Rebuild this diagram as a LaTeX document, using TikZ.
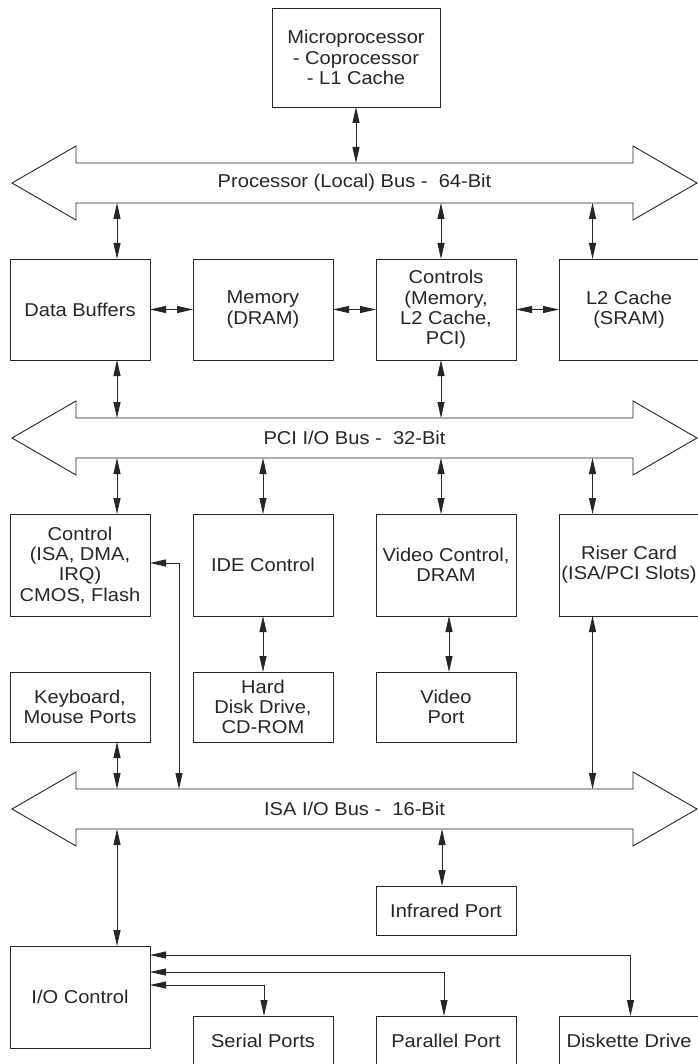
\documentclass[tikz,border=0pt]{standalone}
\usepackage{fontspec}
\setmainfont{Liberation Sans}[FakeStretch=1.08]
\usetikzlibrary{positioning,arrows.meta}

\begin{document}
\begin{tikzpicture}[x=1pt, y=-1pt, node distance=43pt, line width=0.9pt, color=black!85,
        font=\fontsize{18.6pt}{20.3pt}\selectfont,
        box/.style = {draw, align=center, minimum width=140pt, inner sep=0pt, outer sep=0pt},
        bus/.style = {minimum width=557pt, minimum height=40pt, inner sep=0pt, outer sep=0pt},
        link/.style = {{Triangle[length=16pt,width=7pt]}-{Triangle[length=16pt,width=7pt]}}]
    \useasboundingbox (0,0) rectangle (697,1064);
    % processor and local bus
    \node[box, minimum width=168pt, minimum height=99pt] (micro) at (356,57.5) {Microprocessor\\- Coprocessor\\- L1 Cache};
    \node[bus] (procbus) at (354.5,183) {Processor (Local) Bus -\ \ 64-Bit};
    \node[box, minimum height=101pt] (buffers) at (80,309.5) {Data Buffers};
    \node[box, minimum height=101pt, right=of buffers] (memory) {Memory\\(DRAM)};
    \node[box, minimum height=101pt, right=of memory] (controls) {Controls\\(Memory,\\L2 Cache,\\PCI)};
    \node[box, minimum height=101pt, right=of controls] (l2) {L2 Cache\\(SRAM)};
    % pci bus
    \node[bus] (pcibus) at (354.5,438) {PCI I/O Bus -\ \ 32-Bit};
    \node[box, minimum height=102pt] (ctrl) at (80,565) {Control\\(ISA, DMA,\\IRQ)\\CMOS, Flash};
    \node[box, minimum height=102pt, right=of ctrl] (ide) {IDE Control};
    \node[box, minimum height=102pt, right=of ide] (video) {Video Control,\\DRAM};
    \node[box, minimum height=102pt, right=of video] (riser) {Riser Card\\(ISA/PCI Slots)};
    \node[box, minimum height=70pt, below=56pt of ctrl] (kbd) {Keyboard,\\Mouse Ports};
    \node[box, minimum height=70pt, below=56pt of ide] (hdd) {Hard\\Disk Drive,\\CD-ROM};
    \node[box, minimum height=70pt, below=56pt of video] (vport) {Video\\Port};
    % isa bus
    \node[bus] (isabus) at (354.5,809) {ISA I/O Bus -\ \ 16-Bit};
    \node[box, minimum height=49pt] (infra) at (446,910.5) {Infrared Port};
    \node[box, minimum height=102pt] (ioctl) at (80,997) {I/O Control};
    \node[box, minimum height=50pt] (serial) at (263,1041) {Serial Ports};
    \node[box, minimum height=50pt, right=of serial] (parallel) {Parallel Port};
    \node[box, minimum height=50pt, right=of parallel] (diskette) {Diskette Drive};

    \foreach \b in {procbus,pcibus,isabus}
        \draw (\b.north west) -- (\b.north east) -- ++(0,-17) -- ++(64,37) -- ++(-64,37)
            -- (\b.south east) -- (\b.south west) -- ++(0,17) -- ++(-64,-37) -- ++(64,-37) -- cycle;

    \draw[link] (micro.south) -- (micro.south |- procbus.north);
    \draw[link] ([xshift=37pt]buffers.north) -- ([xshift=37pt]buffers.north |- procbus.south);
    \draw[link] ([xshift=-5pt]controls.north) -- ([xshift=-5pt]controls.north |- procbus.south);
    \draw[link] ([xshift=-36.5pt]l2.north) -- ([xshift=-36.5pt]l2.north |- procbus.south);
    \draw[link] (buffers) -- (memory);
    \draw[link] (memory) -- (controls);
    \draw[link] (controls) -- (l2);
    \draw[link] ([xshift=37pt]buffers.south) -- ([xshift=37pt]buffers.south |- pcibus.north);
    \draw[link] ([xshift=-5pt]controls.south) -- ([xshift=-5pt]controls.south |- pcibus.north);

    \draw[link] ([xshift=37pt]ctrl.north) -- ([xshift=37pt]ctrl.north |- pcibus.south);
    \draw[link] (ide.north) -- (ide.north |- pcibus.south);
    \draw[link] ([xshift=-5pt]video.north) -- ([xshift=-5pt]video.north |- pcibus.south);
    \draw[link] ([xshift=-36.5pt]riser.north) -- ([xshift=-36.5pt]riser.north |- pcibus.south);
    \draw[link] (ide) -- (hdd);
    \draw[link] ([xshift=3pt]video.south) -- ([xshift=3pt]vport.north);
    \draw[link] ([xshift=37pt]kbd.south) -- ([xshift=37pt]kbd.south |- isabus.north);
    \draw[link] ([yshift=2pt]ctrl.east) -| ([xshift=29pt]ctrl.east |- isabus.north);
    \draw[link] ([xshift=-36.5pt]riser.south) -- ([xshift=-36.5pt]riser.south |- isabus.north);

    \draw[link] ([xshift=37pt]ioctl.north) -- ([xshift=37pt]ioctl.north |- isabus.south);
    \draw[link] ([xshift=-4pt]infra.north) -- ([xshift=-4pt]infra.north |- isabus.south);
    \draw[link] ([yshift=42pt]ioctl.east) -| ([xshift=1.5pt]diskette.north);
    \draw[link] ([yshift=25pt]ioctl.east) -| ([xshift=-2pt]parallel.north);
    \draw[link] ([yshift=12pt]ioctl.east) -| ([xshift=1pt]serial.north);
\end{tikzpicture}
\end{document}
